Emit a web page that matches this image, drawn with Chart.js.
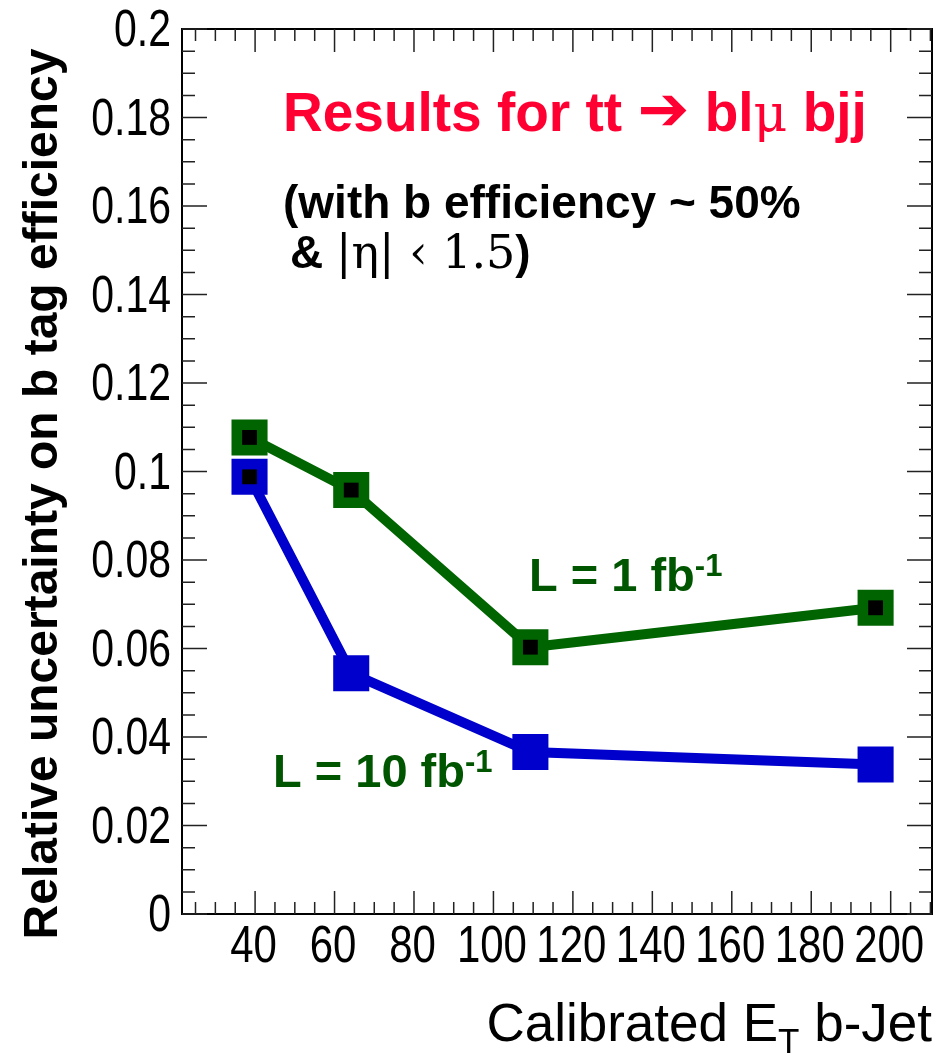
<!DOCTYPE html>
<html>
<head>
<meta charset="utf-8">
<script src="https://cdn.jsdelivr.net/npm/chart.js@4.4.1/dist/chart.umd.min.js"></script>
<style>
  html, body { margin: 0; padding: 0; background: #fff; }
  canvas { display: block; }
</style>
</head>
<body>
<canvas id="effChart" width="940" height="1063"></canvas>
<script>
// calibrated E_T of the b-jet bins
const jetEt = [38.6, 64.2, 109.3, 196.2];
// relative uncertainty on the b-tag efficiency
const unc1fb = [0.1077, 0.0958, 0.0603, 0.0692];
const unc10fb = [0.0988, 0.0544, 0.0366, 0.0338];

const yTicks = [0, 0.02, 0.04, 0.06, 0.08, 0.1, 0.12, 0.14, 0.16, 0.18, 0.2];
const yTickLabels = ['0', '0.02', '0.04', '0.06', '0.08', '0.1', '0.12', '0.14', '0.16', '0.18', '0.2'];
const xTicks = [40, 60, 80, 100, 120, 140, 160, 180, 200];
const xTickLabels = ['40', '60', '80', '100', '120', '140', '160', '180', '200'];

const GREEN = '#006400';
const TEXT_GREEN = '#005500';
const BLUE = '#0000cc';
const SANS = "'Liberation Sans', Arial, sans-serif";

// black centre dots sit on the 1 fb-1 points and the first 10 fb-1 point
const centreDots = jetEt.map((e, i) => ({ x: e, y: unc1fb[i] }))
  .concat([{ x: jetEt[0], y: unc10fb[0] }]);

// draw a row of text pieces one after another, each with its own font/offset
function drawRun(ctx, x, y, pieces) {
  let cx = x;
  pieces.forEach(p => {
    ctx.font = p.font;
    ctx.fillStyle = p.color;
    ctx.fillText(p.text, cx, y + (p.dy || 0));
    cx += ctx.measureText(p.text).width;
  });
}

const frameAndText = {
  id: 'frameAndText',
  afterDraw(chart) {
    const { ctx, chartArea: a, scales: { x, y } } = chart;
    ctx.save();

    // frame
    ctx.strokeStyle = '#000';
    ctx.lineWidth = 2;
    ctx.strokeRect(a.left, a.top, a.right - a.left, a.bottom - a.top);

    // inward ticks on all four sides
    ctx.lineWidth = 1.5;
    ctx.strokeStyle = '#222';
    ctx.beginPath();
    for (let i = 0; i <= 40; i++) {
      const py = y.getPixelForValue(i * 0.005);
      const len = i % 4 === 0 ? 25 : 13;
      ctx.moveTo(a.left, py); ctx.lineTo(a.left + len, py);
      ctx.moveTo(a.right, py); ctx.lineTo(a.right - len, py);
    }
    for (let v = 25; v <= 210; v += 5) {
      const px = x.getPixelForValue(v);
      const len = v % 20 === 0 ? 23 : 12;
      ctx.moveTo(px, a.bottom); ctx.lineTo(px, a.bottom - len);
      ctx.moveTo(px, a.top); ctx.lineTo(px, a.top + len);
    }
    ctx.stroke();

    // tick labels, a little taller than wide
    ctx.fillStyle = '#000';
    ctx.font = '41px ' + SANS;
    ctx.textAlign = 'right';
    ctx.textBaseline = 'middle';
    yTicks.forEach((v, i) => {
      ctx.save();
      ctx.translate(171, y.getPixelForValue(v) + 3);
      ctx.scale(1, 1.27);
      ctx.fillText(yTickLabels[i], 0, 0);
      ctx.restore();
    });
    ctx.font = '42px ' + SANS;
    ctx.textAlign = 'center';
    xTicks.forEach((v, i) => {
      ctx.save();
      ctx.translate(x.getPixelForValue(v) - 1.5, 948);
      ctx.scale(1, 1.25);
      ctx.fillText(xTickLabels[i], 0, 0);
      ctx.restore();
    });

    // axis titles
    ctx.textBaseline = 'alphabetic';
    ctx.save();
    ctx.translate(57, 494);
    ctx.rotate(-Math.PI / 2);
    ctx.textAlign = 'center';
    ctx.font = 'bold 48px ' + SANS;
    ctx.fillText('Relative uncertainty on b tag efficiency', 0, 0);
    ctx.restore();

    ctx.textAlign = 'left';
    const xTitle = [
      { text: 'Calibrated E', font: '53px ' + SANS, color: '#000' },
      { text: 'T', font: '35px ' + SANS, color: '#000', dy: 12 },
      { text: ' b-Jet', font: '53px ' + SANS, color: '#000' }
    ];
    let w = 0;
    xTitle.forEach(p => { ctx.font = p.font; w += ctx.measureText(p.text).width; });
    drawRun(ctx, a.right - w, 1041, xTitle);

    // channel and selection
    const RED = '#ff0033';
    drawRun(ctx, 283, 131, [
      { text: 'Results for tt ', font: 'bold 55px ' + SANS, color: RED },
      { text: '\u2794', font: "bold 62px 'DejaVu Sans', sans-serif", color: RED, dy: -1 },
      { text: ' bl', font: 'bold 55px ' + SANS, color: RED },
      { text: '\u03bc', font: "52px 'DejaVu Serif', serif", color: RED },
      { text: ' bjj', font: 'bold 55px ' + SANS, color: RED }
    ]);
    drawRun(ctx, 283, 218, [
      { text: '(with b efficiency ~ 50%', font: 'bold 46px ' + SANS, color: '#000' }
    ]);
    drawRun(ctx, 290, 268, [
      { text: '& ', font: 'bold 46px ' + SANS, color: '#000' },
      { text: '|\u03b7| \u2039 1.5', font: "46px 'DejaVu Serif', serif", color: '#000' },
      { text: ')', font: 'bold 46px ' + SANS, color: '#000' }
    ]);

    // luminosity labels
    drawRun(ctx, 529, 591, [
      { text: 'L = 1 fb', font: 'bold 47px ' + SANS, color: TEXT_GREEN },
      { text: '-1', font: 'bold 31px ' + SANS, color: TEXT_GREEN, dy: -15 }
    ]);
    drawRun(ctx, 273, 787, [
      { text: 'L = 10 fb', font: 'bold 47px ' + SANS, color: TEXT_GREEN },
      { text: '-1', font: 'bold 31px ' + SANS, color: TEXT_GREEN, dy: -15 }
    ]);

    ctx.restore();
  }
};

new Chart(document.getElementById('effChart'), {
  type: 'line',
  data: {
    datasets: [
      {
        label: 'centre',
        data: centreDots,
        showLine: false,
        pointStyle: 'rect',
        pointRadius: 10.5,
        pointBorderWidth: 0,
        pointBackgroundColor: '#000',
        order: 0
      },
      {
        label: 'L = 10 fb-1',
        data: jetEt.map((e, i) => ({ x: e, y: unc10fb[i] })),
        borderColor: BLUE,
        borderWidth: 10,
        pointStyle: 'rect',
        pointRadius: 25.5,
        pointBorderWidth: 0,
        pointBackgroundColor: BLUE,
        order: 1
      },
      {
        label: 'L = 1 fb-1',
        data: jetEt.map((e, i) => ({ x: e, y: unc1fb[i] })),
        borderColor: GREEN,
        borderWidth: 10,
        pointStyle: 'rect',
        pointRadius: 25.5,
        pointBorderWidth: 0,
        pointBackgroundColor: GREEN,
        order: 2
      }
    ]
  },
  options: {
    responsive: false,
    animation: false,
    devicePixelRatio: 1,
    layout: { autoPadding: false, padding: { top: 29, right: 8, left: 0, bottom: 0 } },
    plugins: { legend: { display: false }, tooltip: { enabled: false } },
    scales: {
      x: {
        type: 'linear',
        min: 21.6,
        max: 210.4,
        ticks: { display: false },
        grid: { display: false },
        border: { display: false },
        afterFit: s => { s.height = 149; }
      },
      y: {
        min: 0,
        max: 0.2,
        ticks: { display: false },
        grid: { display: false },
        border: { display: false },
        afterFit: s => { s.width = 182; }
      }
    }
  },
  plugins: [frameAndText]
});
</script>
</body>
</html>
